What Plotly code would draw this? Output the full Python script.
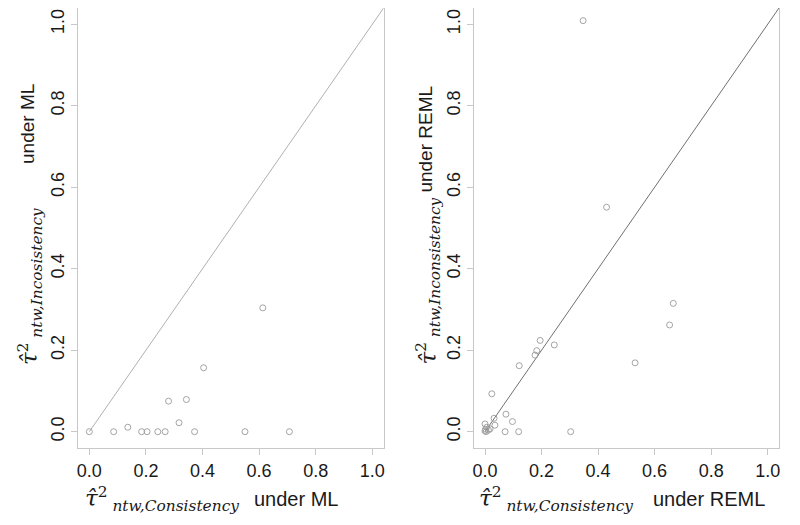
import plotly.graph_objects as go

# Left panel: ML estimates
ml_consistency = [0.0, 0.086, 0.136, 0.185, 0.204, 0.242, 0.268, 0.280, 0.317, 0.343, 0.372, 0.404, 0.550, 0.613, 0.707]
ml_inconsistency = [0.0, 0.0, 0.011, 0.0, 0.0, 0.0, 0.0, 0.075, 0.022, 0.079, 0.0, 0.157, 0.0, 0.304, 0.0]

# Right panel: REML estimates
reml_consistency = [0.347, 0.430, 0.666, 0.653, 0.531, 0.245, 0.195, 0.183, 0.177, 0.121, 0.024, 0.074,
                    0.097, 0.071, 0.119, 0.303, 0.032, 0.035, 0.0, 0.006, 0.0, 0.004, 0.018, 0.012, 0.002]
reml_inconsistency = [1.009, 0.551, 0.315, 0.262, 0.169, 0.213, 0.224, 0.199, 0.188, 0.162, 0.093, 0.043,
                      0.025, 0.0, 0.0, 0.0, 0.033, 0.016, 0.019, 0.011, 0.002, 0.0, 0.007, 0.004, 0.006]

identity = [0.0, 1.2]
tick_vals = [0.0, 0.2, 0.4, 0.6, 0.8, 1.0]
tick_text = ["0.0", "0.2", "0.4", "0.6", "0.8", "1.0"]

def math(sub):
    return ("<span style=\"font-family:'DejaVu Serif';font-size:22px\">"
            "<span style=\"font-size:23px\"><i>τ̂</i></span><sup>2\u00a0</sup>"
            f"<sub><i>{sub}</i></sub></span>")

marker = dict(symbol="circle-open", size=6, color="#9a9a9a", line=dict(width=0.9, color="#9a9a9a"))

fig = go.Figure()
fig.add_trace(go.Scatter(x=identity, y=identity, mode="lines", line=dict(color="#b0b0b0", width=1),
                         xaxis="x", yaxis="y", showlegend=False, hoverinfo="skip"))
fig.add_trace(go.Scatter(x=ml_consistency, y=ml_inconsistency, mode="markers", marker=marker,
                         xaxis="x", yaxis="y", showlegend=False))
fig.add_trace(go.Scatter(x=identity, y=identity, mode="lines", line=dict(color="#707070", width=1),
                         xaxis="x2", yaxis="y2", showlegend=False, hoverinfo="skip"))
fig.add_trace(go.Scatter(x=reml_consistency, y=reml_inconsistency, mode="markers", marker=marker,
                         xaxis="x2", yaxis="y2", showlegend=False))

axis_common = dict(range=[-0.04, 1.04], tickvals=tick_vals, ticktext=tick_text, showgrid=False,
                   zeroline=False, showline=True, mirror=True, linecolor="#c8c8c8", linewidth=1,
                   ticks="outside", ticklen=6, tickcolor="#c8c8c8", tickwidth=1, automargin=False,
                   tickfont=dict(family="Liberation Sans, Arial", size=18, color="#1a1a1a"))

def ann(text, x, y, xanchor, yanchor, angle=0, size=20):
    return dict(text=text, x=x, y=y, xref="paper", yref="paper", xanchor=xanchor, yanchor=yanchor,
                textangle=angle, showarrow=False,
                font=dict(family="Liberation Sans, Arial", size=size, color="#1a1a1a"))

annotations = [
    # x-axis titles
    ann(math("ntw,Consistency"), 0.0071, -0.116, "left", "middle"),
    ann("under ML", 0.2482, -0.1155, "left", "middle"),
    ann(math("ntw,Consistency"), 0.5692, -0.116, "left", "middle"),
    ann("under REML", 0.817, -0.1155, "left", "middle"),
    # y-axis titles
    ann(math("ntw,Incosistency"), -0.0685, 0.185, "center", "bottom", -90),
    ann("under ML", -0.0713, 0.641, "center", "bottom", -90, 19),
    ann(math("ntw,Inconsistency"), 0.4993, 0.184, "center", "bottom", -90),
    ann("under REML", 0.4964, 0.577, "center", "bottom", -90, 19),
]

fig.update_layout(
    width=800, height=525,
    margin=dict(l=70, r=29, t=0, b=85),
    paper_bgcolor="white", plot_bgcolor="white",
    font=dict(family="Liberation Sans, Arial", color="#1a1a1a"),
    xaxis=dict(domain=[0, 0.436], anchor="y", **axis_common),
    yaxis=dict(domain=[0, 1], anchor="x", tickangle=-90, **axis_common),
    xaxis2=dict(domain=[0.5645, 1], anchor="y2", **axis_common),
    yaxis2=dict(domain=[0, 1], anchor="x2", tickangle=-90, **axis_common),
    annotations=annotations,
)

fig.write_html("out.html")
